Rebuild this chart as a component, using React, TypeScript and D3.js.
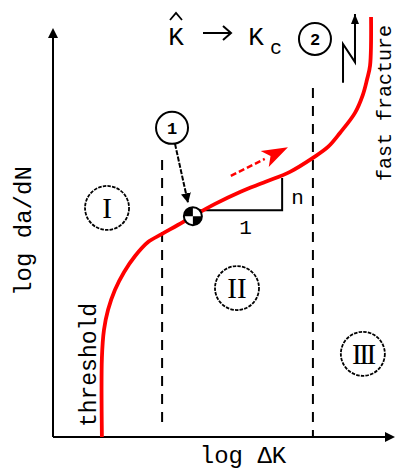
import React from "react";
import * as d3 from "d3";

// Fatigue crack growth curve: log da/dN versus log ΔK (arbitrary log units)
const curveLogDK = [1.43, 1.43, 1.49, 1.61, 1.81, 2.08, 2.4, 2.78, 3.19, 3.65, 4.09, 4.74, 5.47, 6.2, 6.93, 7.6, 8.04, 8.39, 8.83, 9.06, 9.18, 9.27, 9.3];
const curveLogDadN = [0, 2.32, 3.14, 3.73, 4.31, 4.84, 5.31, 5.72, 5.96, 6.22, 6.48, 6.84, 7.19, 7.48, 7.78, 8.19, 8.51, 8.92, 9.51, 10.04, 10.48, 10.89, 12.32];

// Region boundaries along log ΔK
const boundaryDK = [3.19, 7.6];
const boundaryTop = [8.13, 10.24];
const boundaryBottom = [0.44, 0];

// Region labels and their centres
const regionNames = ["I", "II", "III"];
const regionDK = [1.58, 5.38, 9.06];
const regionDadN = [6.72, 4.37, 2.44];

// Paris-law slope triangle: start point, run end, rise end
const slopeStart = [4.09, 6.48];
const slopeRunDK = 6.7;
const slopeRiseDadN = 7.6;

// Growth direction arrow
const growthTail = [5.2, 7.66];
const growthTip = [6.87, 8.5];

// Numbered callouts
const callout1 = [3.48, 9.07];
const callout2 = [7.66, 11.68];

// Fast-fracture zigzag arrow
const zigzagDK = [8.48, 8.48, 8.83, 8.83];
const zigzagDadN = [10.39, 11.53, 11.0, 12.41];

const W = 398;
const H = 471;
const mono = "'Liberation Mono', 'DejaVu Sans Mono', monospace";
const serif = "'Liberation Serif', 'DejaVu Serif', serif";

export default function App() {
  const x = d3.scaleLinear().domain([0, 10]).range([53, 395]);
  const y = d3.scaleLinear().domain([0, 12]).range([437, 28]);

  const pts: [number, number][] = curveLogDK.map((v, i) => [v, curveLogDadN[i]]);
  const line = d3
    .line<[number, number]>()
    .x((d) => x(d[0]))
    .y((d) => y(d[1]))
    .curve(d3.curveCatmullRom.alpha(0.5));

  const x0 = x(0);
  const y0 = y(0);
  const xEnd = x(10);
  const yTop = y(12);

  // marker at the slope start
  const mx = x(slopeStart[0]);
  const my = y(slopeStart[1]);
  const mr = 9;

  // growth arrow geometry
  const tx = x(growthTail[0]);
  const ty = y(growthTail[1]);
  const hx = x(growthTip[0]);
  const hy = y(growthTip[1]);
  const ang = Math.atan2(hy - ty, hx - tx);
  const headLen = 26;
  const headW = 9;
  const bx = hx - headLen * Math.cos(ang);
  const by = hy - headLen * Math.sin(ang);
  const nx = -Math.sin(ang);
  const ny = Math.cos(ang);

  // callout 1 leader
  const c1x = x(callout1[0]);
  const c1y = y(callout1[1]);
  const leadEndX = mx - 5;
  const leadEndY = my - 14;

  const zz = zigzagDK.map((v, i) => [x(v), y(zigzagDadN[i])]);
  const zzTop = zz[zz.length - 1];

  return (
    <svg width={W} height={H} style={{ position: "absolute", left: 0, top: 0, background: "#fff" }}>
      <defs>
        <marker id="arrowFill" viewBox="0 0 10 10" refX="9" refY="5" markerWidth="5" markerHeight="5" orient="auto">
          <path d="M0,0 L10,5 L0,10 z" fill="#000" />
        </marker>
      </defs>

      {/* axes */}
      <line x1={x0} y1={y0} x2={x0} y2={yTop + 2} stroke="#000" strokeWidth={2} />
      <path d={`M${x0 - 5},${yTop + 10} L${x0},${yTop} L${x0 + 5},${yTop + 10} z`} fill="#000" />
      <line x1={x0} y1={y0} x2={xEnd - 2} y2={y0} stroke="#000" strokeWidth={2} />
      <path d={`M${xEnd - 10},${y0 - 5} L${xEnd},${y0} L${xEnd - 10},${y0 + 5} z`} fill="#000" />

      {/* region boundaries */}
      {boundaryDK.map((v, i) => (
        <line
          key={i}
          x1={x(v)}
          x2={x(v)}
          y1={y(boundaryTop[i])}
          y2={y(boundaryBottom[i])}
          stroke="#000"
          strokeWidth={2}
          strokeDasharray="10 8"
        />
      ))}

      {/* region labels */}
      {regionNames.map((n, i) => (
        <g key={n} transform={`translate(${x(regionDK[i])},${y(regionDadN[i])})`}>
          <circle r={22} fill="none" stroke="#000" strokeWidth={1.8} strokeDasharray="3.5 1.2" />
          <text
            textAnchor="middle"
            dy={10}
            fontFamily={serif}
            fontSize={29}
            letterSpacing={n.length > 2 ? -2.5 : 0}
            fill="#000"
          >
            {n}
          </text>
        </g>
      ))}

      {/* slope triangle */}
      <path
        d={`M${mx},${my - 6} L${x(slopeRunDK)},${my - 6} L${x(slopeRunDK)},${y(slopeRiseDadN)}`}
        fill="none"
        stroke="#000"
        strokeWidth={2}
      />
      <text x={x(slopeRunDK) + 9} y={my - 12} fontFamily={mono} fontSize={21} fill="#000">
        n
      </text>
      <text x={(mx + x(slopeRunDK)) / 2 + 8} y={my + 18} textAnchor="middle" fontFamily={mono} fontSize={21} fill="#000">
        1
      </text>

      {/* growth arrow */}
      <line x1={tx} y1={ty} x2={bx} y2={by} stroke="#ff0000" strokeWidth={2.5} strokeDasharray="6 3" />
      <path
        d={`M${hx},${hy} L${bx + nx * headW},${by + ny * headW} L${bx + (hx - bx) * 0.25},${by + (hy - by) * 0.25} L${bx - nx * headW},${by - ny * headW} z`}
        fill="#ff0000"
      />

      {/* crack growth curve */}
      <path d={line(pts) ?? ""} fill="none" stroke="#ff0000" strokeWidth={3.8} strokeLinejoin="round" />

      {/* marker */}
      <g transform={`translate(${mx},${my})`}>
        <circle r={mr} fill="#fff" stroke="#000" strokeWidth={2} />
        <path d={`M0,0 L${-mr},0 A${mr},${mr} 0 0 1 0,${-mr} z`} fill="#000" />
        <path d={`M0,0 L${mr},0 A${mr},${mr} 0 0 1 0,${mr} z`} fill="#000" />
      </g>

      {/* callout 1 */}
      <g transform={`translate(${c1x},${c1y})`}>
        <circle r={16} fill="#fff" stroke="#000" strokeWidth={2} />
        <text textAnchor="middle" dy={6} fontFamily={mono} fontWeight="bold" fontSize={17} fill="#000">
          1
        </text>
      </g>
      <line
        x1={c1x + 3}
        y1={c1y + 16}
        x2={leadEndX}
        y2={leadEndY}
        stroke="#000"
        strokeWidth={2}
        strokeDasharray="5 1.5"
        markerEnd="url(#arrowFill)"
      />

      {/* callout 2 */}
      <g transform={`translate(${x(callout2[0])},${y(callout2[1])})`}>
        <circle r={16} fill="#fff" stroke="#000" strokeWidth={2} />
        <text textAnchor="middle" dy={6} fontFamily={mono} fontWeight="bold" fontSize={17} fill="#000">
          2
        </text>
      </g>

      {/* zigzag arrow */}
      <polyline points={zz.map((p) => p.join(",")).join(" ")} fill="none" stroke="#000" strokeWidth={2} />
      <path d={`M${zzTop[0] - 4},${zzTop[1] + 10} L${zzTop[0]},${zzTop[1]} L${zzTop[0] + 4},${zzTop[1] + 10} z`} fill="#000" />

      {/* K-hat → Kc */}
      <g fontFamily={mono} fill="#000">
        <text x={176} y={45} textAnchor="middle" fontSize={26}>
          K
        </text>
        <path d="M170,20 L176,13 L182,20" fill="none" stroke="#000" strokeWidth={1.8} />
        <line x1={203} y1={33} x2={231} y2={33} stroke="#000" strokeWidth={2} />
        <path d="M223,26 L231,33 L223,40" fill="none" stroke="#000" strokeWidth={2} />
        <text x={256} y={45} textAnchor="middle" fontSize={26}>
          K
        </text>
        <text x={276} y={54} textAnchor="middle" fontSize={20}>
          c
        </text>
      </g>

      {/* axis titles and annotations */}
      <text transform={`translate(31,231) rotate(-90)`} textAnchor="middle" fontFamily={mono} fontSize={24} fill="#000">
        log da/dN
      </text>
      <text x={243} y={463} textAnchor="middle" fontFamily={mono} fontSize={24} fill="#000">
        log ΔK
      </text>
      <text transform={`translate(96,365) rotate(-90)`} textAnchor="middle" fontFamily={mono} fontSize={23} fill="#000">
        threshold
      </text>
      <text transform={`translate(391,103) rotate(-90)`} textAnchor="middle" fontFamily={mono} fontSize={20} fill="#000">
        fast fracture
      </text>
    </svg>
  );
}
